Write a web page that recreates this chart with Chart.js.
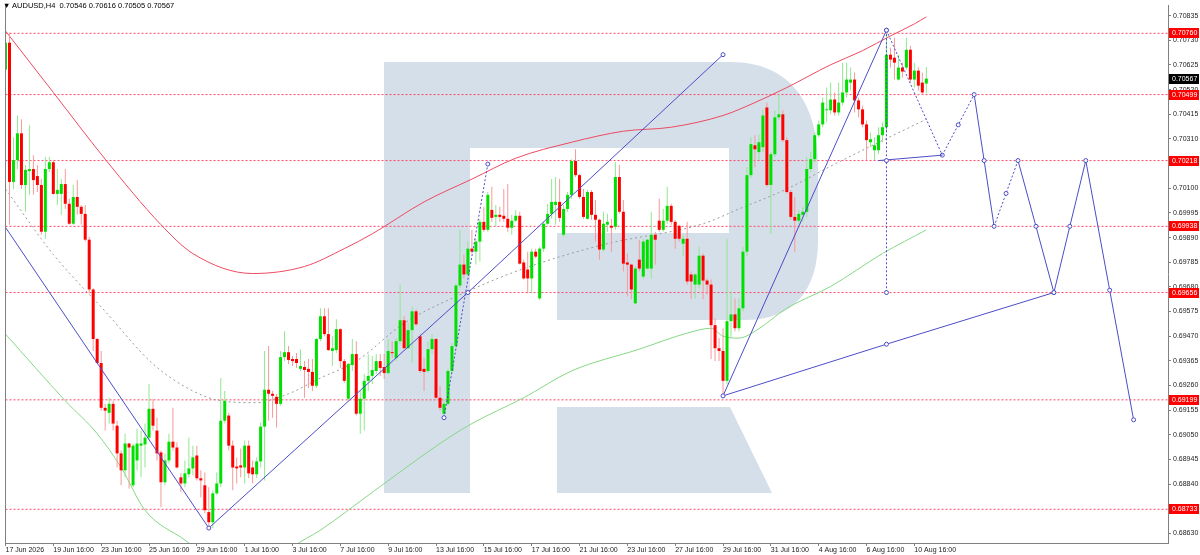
<!DOCTYPE html>
<html>
<head>
<meta charset="utf-8">
<title>AUDUSD H4</title>
<script src="https://cdn.jsdelivr.net/npm/chart.js@4.4.1/dist/chart.umd.min.js"></script>
<style>
  html, body { margin: 0; padding: 0; background: #fff; }
  #box { position: relative; width: 1200px; height: 555px; }
  #hdr { position: absolute; left: 3px; top: 1px; font: 7.5px "Liberation Sans", Arial, sans-serif; color: #000; white-space: pre; }
</style>
</head>
<body>
<div id="box">
  <canvas id="chart" width="1200" height="555"></canvas>
  <div id="hdr"></div>
</div>
<script>
// H4 bars, index 0 = 17 Jun 16:00
const opens = [
  0.70605,0.70720,0.70127,0.70220,0.70334,0.70114,0.70173,0.70182,0.70152,0.70114,0.69915,0.70182,
  0.70211,0.70076,0.70076,0.70118,0.70034,0.69949,0.70063,0.70021,0.69991,0.69881,0.69669,0.69458,
  0.69356,0.69165,0.69144,0.69182,0.69089,0.68971,0.68899,0.69013,0.68835,0.68941,0.69004,0.69009,
  0.69038,0.69161,0.69068,0.68975,0.68848,0.68941,0.69021,0.68996,0.68869,0.68843,0.68882,0.68907,
  0.68962,0.68865,0.68835,0.68721,0.68678,0.68801,0.68843,0.69110,0.69132,0.69004,0.68915,0.68920,
  0.68911,0.69004,0.68911,0.68882,0.68937,0.69085,0.69242,0.69225,0.69212,0.69182,0.69381,0.69402,
  0.69373,0.69373,0.69331,0.69339,0.69331,0.69318,0.69259,0.69458,0.69555,0.69479,0.69407,0.69411,
  0.69500,0.69364,0.69204,0.69347,0.69394,0.69140,0.69204,0.69280,0.69301,0.69322,0.69364,0.69339,
  0.69313,0.69402,0.69377,0.69449,0.69538,0.69419,0.69496,0.69576,0.69470,0.69331,0.69322,0.69415,
  0.69458,0.69208,0.69140,0.69182,0.69322,0.69428,0.69686,0.69775,0.69733,0.69843,0.69830,0.69873,
  0.69957,0.69923,0.70008,0.69978,0.69987,0.69983,0.69970,0.69932,0.69962,0.69983,0.69784,0.69754,
  0.69716,0.69830,0.69631,0.69843,0.69949,0.69991,0.70029,0.70042,0.69902,0.70012,0.70072,0.70216,
  0.70156,0.70063,0.69970,0.70084,0.69987,0.69966,0.69839,0.69945,0.69940,0.69936,0.70148,0.70000,
  0.69784,0.69775,0.69610,0.69796,0.69724,0.69758,0.69758,0.69902,0.69962,0.69923,0.69962,0.70025,
  0.69957,0.69940,0.69864,0.69885,0.69733,0.69690,0.69690,0.69813,0.69707,0.69690,0.69517,0.69419,
  0.69407,0.69280,0.69534,0.69563,0.69504,0.69589,0.69830,0.70156,0.70283,0.70254,0.70275,0.70444,
  0.70114,0.70245,0.70402,0.70415,0.70305,0.70084,0.69978,0.69962,0.69987,0.70000,0.70182,0.70224,
  0.70326,0.70372,0.70432,0.70432,0.70478,0.70423,0.70465,0.70508,0.70550,0.70563,0.70474,0.70436,
  0.70372,0.70296,0.70262,0.70262,0.70326,0.70360,0.70669,0.70656,0.70563,0.70614,0.70614,0.70690,
  0.70563,0.70601,0.70550,0.70546
];
const highs = [
  0.70762,0.70762,0.70317,0.70410,0.70394,0.70199,0.70368,0.70241,0.70199,0.70139,0.70233,0.70233,
  0.70220,0.70182,0.70139,0.70182,0.70055,0.70114,0.70135,0.70029,0.70029,0.69894,0.69674,0.69462,
  0.69407,0.69182,0.69208,0.69195,0.69110,0.68983,0.69055,0.69017,0.69013,0.69076,0.69068,0.69098,
  0.69267,0.69204,0.69123,0.68983,0.68971,0.69055,0.69165,0.69017,0.68886,0.68941,0.69038,0.69004,
  0.69004,0.68899,0.68890,0.68827,0.68814,0.68890,0.69292,0.69237,0.69144,0.69026,0.68954,0.68992,
  0.69026,0.69026,0.68941,0.68954,0.69102,0.69407,0.69428,0.69237,0.69225,0.69407,0.69491,0.69428,
  0.69386,0.69398,0.69415,0.69364,0.69373,0.69373,0.69462,0.69589,0.69589,0.69589,0.69470,0.69542,
  0.69504,0.69373,0.69356,0.69458,0.69449,0.69237,0.69309,0.69394,0.69386,0.69394,0.69394,0.69394,
  0.69458,0.69449,0.69462,0.69690,0.69555,0.69525,0.69597,0.69585,0.69479,0.69377,0.69449,0.69479,
  0.69462,0.69259,0.69204,0.69331,0.69441,0.69695,0.69923,0.69818,0.69873,0.69923,0.69885,0.69970,
  0.70021,0.70084,0.70106,0.70029,0.70021,0.70097,0.70118,0.69987,0.70008,0.70000,0.69796,0.69830,
  0.69843,0.69843,0.69851,0.69957,0.70034,0.70139,0.70148,0.70139,0.70029,0.70084,0.70224,0.70266,
  0.70161,0.70097,0.70093,0.70093,0.70050,0.69970,0.70000,0.69991,0.69970,0.70211,0.70199,0.70050,
  0.69822,0.69779,0.69767,0.69881,0.69885,0.69885,0.70000,0.69915,0.70055,0.70012,0.70106,0.70034,
  0.69966,0.69945,0.69902,0.69957,0.69746,0.69737,0.69851,0.69822,0.69716,0.69712,0.69546,0.69462,
  0.69504,0.69885,0.69661,0.69631,0.69631,0.69851,0.70190,0.70317,0.70326,0.70330,0.70436,0.70465,
  0.70254,0.70432,0.70499,0.70432,0.70317,0.70093,0.70063,0.70008,0.70021,0.70233,0.70254,0.70338,
  0.70389,0.70487,0.70529,0.70550,0.70508,0.70550,0.70635,0.70635,0.70614,0.70593,0.70487,0.70453,
  0.70389,0.70338,0.70317,0.70360,0.70381,0.70775,0.70698,0.70741,0.70669,0.70635,0.70741,0.70707,
  0.70635,0.70614,0.70593,0.70616
];
const lows = [
  0.70593,0.69945,0.70097,0.70182,0.70097,0.70000,0.70072,0.70072,0.70084,0.69902,0.69885,0.70169,
  0.70072,0.70029,0.69987,0.70012,0.69945,0.69945,0.69987,0.69945,0.69873,0.69652,0.69407,0.69352,
  0.69153,0.69068,0.69098,0.69068,0.68911,0.68835,0.68869,0.68822,0.68827,0.68899,0.68869,0.68911,
  0.69026,0.69068,0.68941,0.68742,0.68835,0.68928,0.68983,0.68907,0.68805,0.68827,0.68869,0.68877,
  0.68856,0.68784,0.68716,0.68657,0.68653,0.68793,0.68827,0.69098,0.68983,0.68814,0.68843,0.68869,
  0.68843,0.68865,0.68843,0.68865,0.68911,0.68856,0.69110,0.69123,0.69081,0.69174,0.69364,0.69352,
  0.69343,0.69335,0.69322,0.69208,0.69250,0.69237,0.69250,0.69449,0.69470,0.69407,0.69343,0.69398,
  0.69335,0.69271,0.69195,0.69322,0.69132,0.69055,0.69068,0.69237,0.69267,0.69309,0.69301,0.69288,
  0.69309,0.69377,0.69364,0.69436,0.69415,0.69415,0.69356,0.69513,0.69313,0.69237,0.69313,0.69394,
  0.69204,0.69153,0.69123,0.69174,0.69309,0.69419,0.69674,0.69716,0.69724,0.69822,0.69775,0.69788,
  0.69915,0.69915,0.69957,0.69936,0.69957,0.69957,0.69915,0.69902,0.69957,0.69775,0.69712,0.69652,
  0.69652,0.69801,0.69623,0.69830,0.69945,0.69970,0.69945,0.69957,0.69894,0.70000,0.70055,0.70148,
  0.70055,0.69970,0.69966,0.69966,0.69873,0.69796,0.69830,0.69915,0.69830,0.69923,0.69991,0.69746,
  0.69640,0.69627,0.69606,0.69746,0.69716,0.69754,0.69716,0.69775,0.69915,0.69915,0.69949,0.69945,
  0.69843,0.69873,0.69809,0.69690,0.69627,0.69631,0.69674,0.69627,0.69648,0.69373,0.69364,0.69364,
  0.69216,0.69267,0.69462,0.69491,0.69491,0.69576,0.69809,0.70144,0.70190,0.70220,0.70254,0.70106,
  0.69906,0.70233,0.70389,0.70296,0.70076,0.69966,0.69830,0.69949,0.69957,0.69978,0.70169,0.70211,
  0.70317,0.70360,0.70381,0.70415,0.70410,0.70410,0.70453,0.70487,0.70516,0.70423,0.70402,0.70360,
  0.70220,0.70275,0.70220,0.70245,0.70296,0.70338,0.70614,0.70563,0.70559,0.70571,0.70605,0.70550,
  0.70529,0.70516,0.70499,0.70505
];
const closes = [
  0.70720,0.70127,0.70220,0.70334,0.70114,0.70178,0.70182,0.70135,0.70114,0.69915,0.70182,0.70211,
  0.70076,0.70093,0.70118,0.70034,0.69949,0.70063,0.70021,0.69991,0.69881,0.69669,0.69458,0.69356,
  0.69165,0.69153,0.69182,0.69098,0.68971,0.68899,0.69013,0.68996,0.69004,0.69013,0.69013,0.69038,
  0.69161,0.69089,0.68971,0.68848,0.68941,0.69021,0.68996,0.68911,0.68843,0.68886,0.68907,0.68954,
  0.68865,0.68856,0.68729,0.68678,0.68801,0.68843,0.69110,0.69195,0.69004,0.68911,0.68907,0.68911,
  0.69004,0.68886,0.68882,0.68937,0.69085,0.69242,0.69225,0.69216,0.69182,0.69381,0.69402,0.69369,
  0.69364,0.69356,0.69343,0.69326,0.69318,0.69259,0.69458,0.69555,0.69479,0.69411,0.69419,0.69500,
  0.69364,0.69280,0.69352,0.69394,0.69140,0.69204,0.69280,0.69301,0.69326,0.69364,0.69335,0.69313,
  0.69407,0.69398,0.69449,0.69538,0.69419,0.69496,0.69576,0.69521,0.69322,0.69318,0.69415,0.69458,
  0.69208,0.69165,0.69182,0.69322,0.69428,0.69686,0.69775,0.69733,0.69843,0.69830,0.69873,0.69957,
  0.69923,0.70072,0.69974,0.69987,0.69978,0.69970,0.69932,0.69962,0.69983,0.69779,0.69716,0.69716,
  0.69830,0.69809,0.69843,0.69949,0.69991,0.70042,0.70042,0.69974,0.70012,0.70072,0.70216,0.70156,
  0.70063,0.69978,0.70084,0.69987,0.69966,0.69839,0.69949,0.69957,0.69932,0.70148,0.70000,0.69779,
  0.69775,0.69669,0.69758,0.69758,0.69873,0.69881,0.69902,0.69881,0.69923,0.69962,0.70025,0.69957,
  0.69885,0.69885,0.69885,0.69703,0.69703,0.69733,0.69813,0.69707,0.69690,0.69517,0.69419,0.69407,
  0.69280,0.69534,0.69563,0.69504,0.69589,0.69830,0.70156,0.70288,0.70266,0.70296,0.70410,0.70114,
  0.70245,0.70402,0.70415,0.70305,0.70084,0.69978,0.69962,0.69991,0.70000,0.70182,0.70224,0.70326,
  0.70372,0.70465,0.70436,0.70478,0.70423,0.70465,0.70508,0.70563,0.70563,0.70474,0.70436,0.70372,
  0.70305,0.70309,0.70283,0.70326,0.70360,0.70669,0.70648,0.70635,0.70614,0.70597,0.70690,0.70563,
  0.70601,0.70537,0.70508,0.70567
];

// moving averages, sampled at bar indexes
const redIdx = [0,12,25,39,47,62,75,85,92,105,117,128,142,155,167,180,188,196,207,215,222,228,231];
const redVal = [0.70770,0.70508,0.70224,0.69945,0.69822,0.69737,0.69767,0.69843,0.69906,0.70042,0.70139,0.70228,
  0.70296,0.70343,0.70360,0.70410,0.70465,0.70529,0.70626,0.70686,0.70749,0.70800,0.70830];
const greenIdx = [0,15,23,29,35,45,55,64,72,79,92,109,117,130,142,159,171,177,180,184,188,196,207,220,231];
const greenVal = [0.69479,0.69195,0.69055,0.68911,0.68729,0.68602,0.68475,0.68454,0.68572,0.68644,0.68805,0.69013,
  0.69098,0.69208,0.69322,0.69415,0.69483,0.69504,0.69470,0.69462,0.69491,0.69589,0.69682,0.69822,0.69923];
const grayIdx = [0,12,25,37,47,54,63,71,79,88,100,117,130,150,175,184,196,207,215,231];
const grayVal = [0.70097,0.69818,0.69576,0.69352,0.69237,0.69195,0.69187,0.69225,0.69292,0.69364,0.69525,0.69669,
  0.69758,0.69860,0.69949,0.70012,0.70097,0.70194,0.70262,0.70394];

// trend lines and forecast
const trendAX = [-0.1, 51],      trendAY = [0.69936, 0.68653];
const trendBX = [51, 116, 180],  trendBY = [0.68653, 0.69656, 0.70669];
const trendCX = [180, 221],      trendCY = [0.69216, 0.70773];
const trendDX = [180, 221, 263], trendDY = [0.69216, 0.69436, 0.69656];
const waveX = [110, 121],        waveY = [0.69123, 0.70203];
const vertX = [221, 221, 221],   vertY = [0.70773, 0.70218, 0.69656];
const peakX = [221, 235],        peakY = [0.70773, 0.70241];
const baseX = [219, 235],        baseY = [0.70218, 0.70241];
const fcX = [235, 239, 243, 245.5, 248, 251, 254, 258.5, 263, 267, 271, 277, 283];
const fcY = [0.70241, 0.70370, 0.70499, 0.70218, 0.69938, 0.70078, 0.70218, 0.69938, 0.69656, 0.69938, 0.70218, 0.69666, 0.69114];
const fcDotted = [0, 1, 4, 5];

const levels = [0.70760, 0.70499, 0.70218, 0.69938, 0.69656, 0.69199, 0.68733];

const xTickIdx = [0,12,24,36,48,60,72,84,96,108,120,132,144,156,168,180,192,204,216,228];
const xTickLabels = ["17 Jun 2026","19 Jun 16:00","23 Jun 16:00","25 Jun 16:00","29 Jun 16:00","1 Jul 16:00",
  "3 Jul 16:00","7 Jul 16:00","9 Jul 16:00","13 Jul 16:00","15 Jul 16:00","17 Jul 16:00","21 Jul 16:00",
  "23 Jul 16:00","27 Jul 16:00","29 Jul 16:00","31 Jul 16:00","4 Aug 16:00","6 Aug 16:00","10 Aug 16:00"];
const yTicks = [0.68630,0.68735,0.68840,0.68945,0.69050,0.69155,0.69260,0.69365,0.69470,0.69575,0.69680,
  0.69785,0.69890,0.69995,0.70100,0.70205,0.70310,0.70415,0.70520,0.70625,0.70730,0.70835];

const last = opens.length - 1;
document.getElementById('hdr').textContent = '\u25BC AUDUSD,H4  ' +
  [opens[last], highs[last], lows[last], closes[last]].map(v => v.toFixed(5)).join(' ');

Chart.defaults.font.family = '"Liberation Sans", Arial, sans-serif';
Chart.defaults.font.size = 7;
Chart.defaults.color = '#222';

const pts = (xs, ys) => xs.map((x, i) => ({ x: x, y: ys[i] }));
const bull = closes.map((c, i) => c >= opens[i]);
const blue = '#4c4cc8';

function blueLine(xs, ys, marks, dotted) {
  return {
    type: 'line', data: pts(xs, ys), borderColor: blue, borderWidth: 1,
    borderDash: dotted ? [2, 2] : [], tension: 0, order: 0,
    pointRadius: marks, pointStyle: 'circle', pointBackgroundColor: '#fff',
    pointBorderColor: blue, pointBorderWidth: 1
  };
}

function maLine(xs, ys, color, dash) {
  return {
    type: 'line', data: pts(xs, ys), borderColor: color, borderWidth: 1,
    borderDash: dash || [], pointRadius: 0, cubicInterpolationMode: 'monotone', order: 8
  };
}

const levelSets = levels.map(v => ({
  type: 'line', data: [{ x: -1, y: v }, { x: 300, y: v }],
  borderColor: '#ff4466', borderWidth: 1, borderDash: [2, 2], pointRadius: 0, order: 9
}));

// big "R" logo behind the candles
const watermark = {
  id: 'watermark',
  beforeDatasetsDraw(chart) {
    const ctx = chart.ctx;
    ctx.save();
    ctx.fillStyle = '#d5dfea';
    ctx.beginPath();
    ctx.moveTo(384, 62);
    ctx.lineTo(730, 62);
    ctx.bezierCurveTo(792, 62, 818, 105, 818, 165);
    ctx.lineTo(818, 240);
    ctx.bezierCurveTo(818, 292, 792, 320, 745, 320);
    ctx.lineTo(557, 320);
    ctx.lineTo(557, 233);
    ctx.lineTo(729, 233);
    ctx.lineTo(729, 148);
    ctx.lineTo(470, 148);
    ctx.lineTo(470, 493);
    ctx.lineTo(384, 493);
    ctx.closePath();
    ctx.moveTo(557, 407);
    ctx.lineTo(730, 407);
    ctx.lineTo(772, 493);
    ctx.lineTo(557, 493);
    ctx.closePath();
    ctx.fill();
    ctx.restore();
  }
};

// price tags on the right axis + left frame line
const priceTags = {
  id: 'priceTags',
  afterDraw(chart) {
    const ctx = chart.ctx, ys = chart.scales.y, area = chart.chartArea;
    ctx.save();
    ctx.font = '7px "Liberation Sans", Arial, sans-serif';
    ctx.textBaseline = 'middle';
    const tag = (v, bg) => {
      const py = Math.round(ys.getPixelForValue(v));
      ctx.fillStyle = bg;
      ctx.fillRect(area.right + 1, py - 5, 30, 10);
      ctx.fillStyle = '#fff';
      ctx.fillText(v.toFixed(5), area.right + 4, py);
    };
    levels.forEach(v => tag(v, '#ff0000'));
    tag(closes[last], '#000');
    ctx.strokeStyle = '#808080';
    ctx.lineWidth = 1;
    ctx.beginPath();
    ctx.moveTo(area.left + 0.5, area.top);
    ctx.lineTo(area.left + 0.5, area.bottom);
    ctx.stroke();
    ctx.restore();
  }
};

new Chart(document.getElementById('chart'), {
  type: 'bar',
  data: {
    datasets: [
      blueLine(trendAX, trendAY, [0, 2], false),
      blueLine(trendBX, trendBY, [0, 2, 2], false),
      blueLine(trendCX, trendCY, [2, 2], false),
      blueLine(trendDX, trendDY, [0, 2, 2], false),
      blueLine(waveX, waveY, [2, 2], true),
      blueLine(vertX, vertY, [2, 2, 2], true),
      blueLine(peakX, peakY, 0, true),
      blueLine(baseX, baseY, 0, false),
      Object.assign(blueLine(fcX, fcY, 2, false), {
        segment: { borderDash: ctx => fcDotted.includes(ctx.p0DataIndex) ? [2, 2] : undefined }
      }),
      {
        type: 'bar', order: 6, grouped: false, barThickness: 3, maxBarThickness: 3,
        minBarLength: 1, inflateAmount: 0, borderWidth: 0,
        data: opens.map((o, i) => ({ x: i, y: [o, closes[i]] })),
        backgroundColor: bull.map(b => b ? '#00e000' : '#ff0000')
      },
      {
        type: 'bar', order: 7, grouped: false, barThickness: 1, maxBarThickness: 1,
        inflateAmount: 0, borderWidth: 0,
        data: lows.map((l, i) => ({ x: i, y: [l, highs[i]] })),
        backgroundColor: bull.map(b => b ? '#8fe88f' : '#f59a9a')
      },
      maLine(redIdx, redVal, '#ee4a60'),
      maLine(greenIdx, greenVal, '#86d886'),
      maLine(grayIdx, grayVal, '#9a9a9a', [2, 3]),
      ...levelSets
    ]
  },
  options: {
    responsive: false,
    animation: false,
    events: [],
    layout: { padding: { left: 1, top: 2, right: 0, bottom: 0 } },
    plugins: { legend: { display: false }, tooltip: { enabled: false } },
    scales: {
      x: {
        type: 'linear', position: 'bottom', min: -0.125, max: 291.625, offset: false,
        grid: { display: true, drawOnChartArea: false, offset: false, tickLength: 3, color: '#808080' },
        border: { display: true, color: '#808080' },
        ticks: {
          autoSkip: false, maxRotation: 0, minRotation: 0, align: 'start', padding: 0,
          callback: (v, i) => xTickLabels[i]
        },
        afterBuildTicks: axis => { axis.ticks = xTickIdx.map(v => ({ value: v })); },
        afterFit: axis => {
          axis.height = 12;
          axis.paddingLeft = 0; axis.paddingRight = 0;
        }
      },
      y: {
        type: 'linear', position: 'right', min: 0.685894, max: 0.708805, beginAtZero: false,
        grid: { display: true, drawOnChartArea: false, tickLength: 3, color: '#808080' },
        border: { display: true, color: '#808080' },
        ticks: { autoSkip: false, padding: 2, callback: v => v.toFixed(5) },
        afterBuildTicks: axis => { axis.ticks = yTicks.map(v => ({ value: v })); },
        afterFit: axis => {
          axis.width = 32;
          axis.paddingTop = 0; axis.paddingBottom = 0;
        }
      }
    }
  },
  plugins: [watermark, priceTags]
});
</script>
</body>
</html>
